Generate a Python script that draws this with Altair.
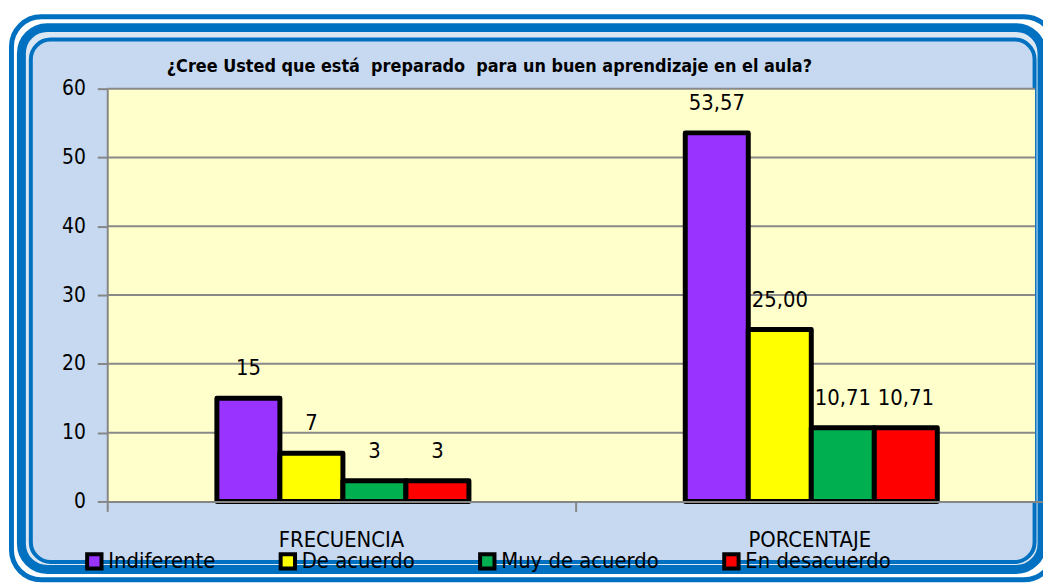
import altair as alt
import pandas as pd

# ---------------- data ----------------
categorias = ["FRECUENCIA", "PORCENTAJE"]
respuestas = ["Indiferente", "De acuerdo", "Muy de acuerdo", "En desacuerdo"]
frecuencia = [15, 7, 3, 3]
porcentaje = [53.57, 25.00, 10.71, 10.71]
etiquetas_frec = ["15", "7", "3", "3"]
etiquetas_porc = ["53,57", "25,00", "10,71", "10,71"]
colores = ["#9933FF", "#FFFF00", "#00B050", "#FF0000"]
y_ticks = [0, 10, 20, 30, 40, 50, 60]
titulo = "¿Cree Usted que está\u00a0 preparado\u00a0 para un buen aprendizaje en el aula?"

rows = []
for r, v, t in zip(respuestas, frecuencia, etiquetas_frec):
    rows.append({"cat": "FRECUENCIA", "resp": r, "val": v, "lab": t})
for r, v, t in zip(respuestas, porcentaje, etiquetas_porc):
    rows.append({"cat": "PORCENTAJE", "resp": r, "val": v, "lab": t})
df = pd.DataFrame(rows)
grid_df = pd.DataFrame({"y": y_ticks[1:]})
one = pd.DataFrame({"k": [1]})
title_df = pd.DataFrame({"t": [titulo]})

FONT = "DejaVu Sans Condensed, DejaVu Sans, sans-serif"
W, H = 935, 416
BLUE = "#0070C0"

x_enc = alt.X(
    "cat:N",
    sort=categorias,
    scale=alt.Scale(domain=categorias, range=[0, 944], paddingInner=0, paddingOuter=0),
    axis=alt.Axis(
        title=None, bandPosition=0, labelAngle=0,
        labelFont=FONT, labelFontSize=22, labelColor="black", labelPadding=18,
        tickSize=10, tickColor="#868686", tickWidth=2,
        domainColor="#868686", domainWidth=2, zindex=1,
    ),
)
xoff_enc = alt.XOffset(
    "resp:N", sort=respuestas,
    scale=alt.Scale(domain=respuestas, paddingInner=0, paddingOuter=0, range=[110.5, 364.5]),
)
y_enc = alt.Y(
    "val:Q",
    scale=alt.Scale(domain=[0, 60], nice=False),
    axis=alt.Axis(
        values=y_ticks, title=None, grid=False,
        labelFont=FONT, labelFontSize=21, labelColor="black", labelPadding=12,
        tickSize=10, tickColor="#868686", tickWidth=2,
        domainColor="#868686", domainWidth=2, zindex=1,
    ),
)

# ---------------- frame ----------------
frame_outer = alt.Chart(one).mark_rect(
    fill="white", stroke=BLUE, strokeWidth=5, cornerRadius=30
).encode(x=alt.value(-96.5), x2=alt.value(954), y=alt.value(-72.5), y2=alt.value(495))

frame_band = alt.Chart(one).mark_rect(
    fill="#DCE7F4", stroke=BLUE, strokeWidth=9, cornerRadius=26
).encode(x=alt.value(-86.5), x2=alt.value(942), y=alt.value(-61.5), y2=alt.value(484.5))

frame_inner = alt.Chart(one).mark_rect(
    fill="#C6D9F1", stroke=BLUE, strokeWidth=4, cornerRadius=20
).encode(x=alt.value(-77), x2=alt.value(934.5), y=alt.value(-49.5), y2=alt.value(477))

plot_bg = alt.Chart(one).mark_rect(fill="#FFFFCC").encode(
    x=alt.value(0), x2=alt.value(W), y=alt.value(0), y2=alt.value(H)
)

grid = alt.Chart(grid_df).mark_rule(color="#898989", strokeWidth=2).encode(
    y=alt.Y("y:Q", scale=alt.Scale(domain=[0, 60], nice=False)),
    x=alt.value(0), x2=alt.value(W),
)

title_mark = alt.Chart(title_df).mark_text(
    font=FONT, fontSize=18, fontWeight="bold", color="black",
    align="left", baseline="alphabetic",
).encode(x=alt.value(60), y=alt.value(-17), text="t:N")

bars = alt.Chart(df).mark_bar(stroke="black", strokeWidth=5, strokeJoin="round").encode(
    x=x_enc,
    xOffset=xoff_enc,
    y=y_enc,
    color=alt.Color(
        "resp:N",
        sort=respuestas,
        scale=alt.Scale(domain=respuestas, range=colores),
        legend=alt.Legend(
            title=None, orient="none", legendX=-24, legendY=465,
            direction="horizontal", symbolType="square", symbolSize=210,
            symbolStrokeColor="black", symbolStrokeWidth=4,
            labelFont=FONT, labelFontSize=22, labelColor="black",
            columnPadding=57, labelOffset=3, padding=0, labelLimit=0,
        ),
    ),
)

labels = alt.Chart(df).mark_text(
    font=FONT, fontSize=22, color="black", baseline="alphabetic", dy=-23
).encode(
    x=alt.X("cat:N", sort=categorias),
    xOffset=xoff_enc,
    y=alt.Y("val:Q"),
    text="lab:N",
)

chart = alt.layer(
    frame_outer, frame_band, frame_inner, plot_bg, grid, title_mark, bars, labels
).properties(
    width=W, height=H,
    autosize="none",
    padding={"left": 100, "top": 79, "right": 8, "bottom": 93},
).configure_view(stroke=None).configure(background="white")

chart.save("out.html", embed_options={"renderer": "svg", "actions": False})
